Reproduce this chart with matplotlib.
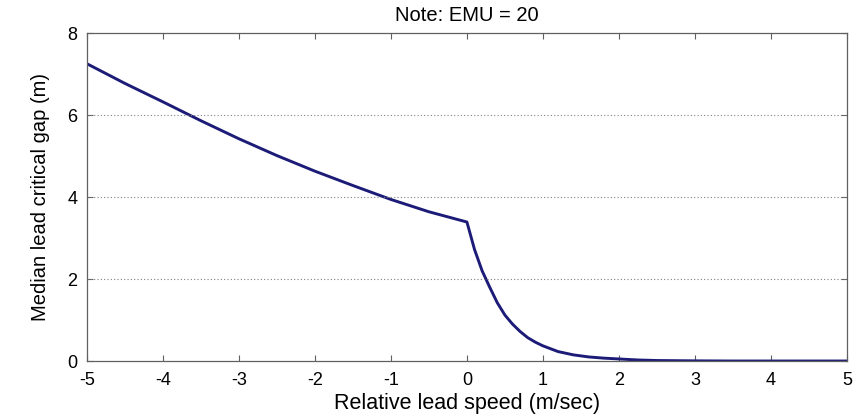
import matplotlib
matplotlib.use("Agg")
import matplotlib.pyplot as plt

# values
speed = [-5.0, -4.5, -4.0, -3.5, -3.0, -2.5, -2.0, -1.5, -1.0, -0.5, 0.0,
         0.1, 0.2, 0.3, 0.4, 0.5, 0.6, 0.7, 0.8, 0.9, 1.0,
         1.2, 1.4, 1.6, 1.8, 2.0, 2.25, 2.5, 3.0, 3.5, 4.0, 4.5, 5.0]
gap = [7.25, 6.77, 6.32, 5.86, 5.42, 5.01, 4.63, 4.28, 3.94, 3.64, 3.39,
       2.72, 2.20, 1.80, 1.42, 1.12, 0.90, 0.72, 0.57, 0.46, 0.37,
       0.23, 0.15, 0.10, 0.07, 0.05, 0.025, 0.012, 0.004, 0.0, 0.0, 0.0, 0.0]

x_ticks = [-5, -4, -3, -2, -1, 0, 1, 2, 3, 4, 5]
y_ticks = [0, 2, 4, 6, 8]

plt.rcParams["font.family"] = ["Liberation Sans", "DejaVu Sans"]

fig = plt.figure(figsize=(8.58, 4.19), dpi=100)
ax = fig.add_axes([0.1014, 0.1384, 0.8856, 0.7828])

ax.plot(speed, gap, color="#1c1c78", linewidth=2.1)

ax.set_xlim(-5, 5)
ax.set_ylim(0, 8)
ax.set_xticks(x_ticks)
ax.set_yticks(y_ticks)
ax.set_xticklabels([str(t) for t in x_ticks])
ax.set_yticklabels([str(t) for t in y_ticks])

for y in y_ticks[1:-1]:
    ax.axhline(y, color="#808080", linestyle=(0, (1, 2)), linewidth=0.8)

for s in ax.spines.values():
    s.set_color("#606060")
    s.set_linewidth(0.9)
ax.tick_params(direction="in", length=4, width=0.8, color="#606060",
               top=True, right=True, labelsize=13)
ax.tick_params(axis="x", pad=8)
ax.tick_params(axis="y", pad=7)

ax.set_title("Note: EMU = 20", fontsize=14.5, pad=9)
ax.set_xlabel("Relative lead speed (m/sec)", fontsize=15.5, labelpad=3)
ax.set_ylabel("Median lead critical gap (m)", fontsize=14.5, labelpad=12)

fig.savefig("out.png", dpi=100, facecolor="white")
